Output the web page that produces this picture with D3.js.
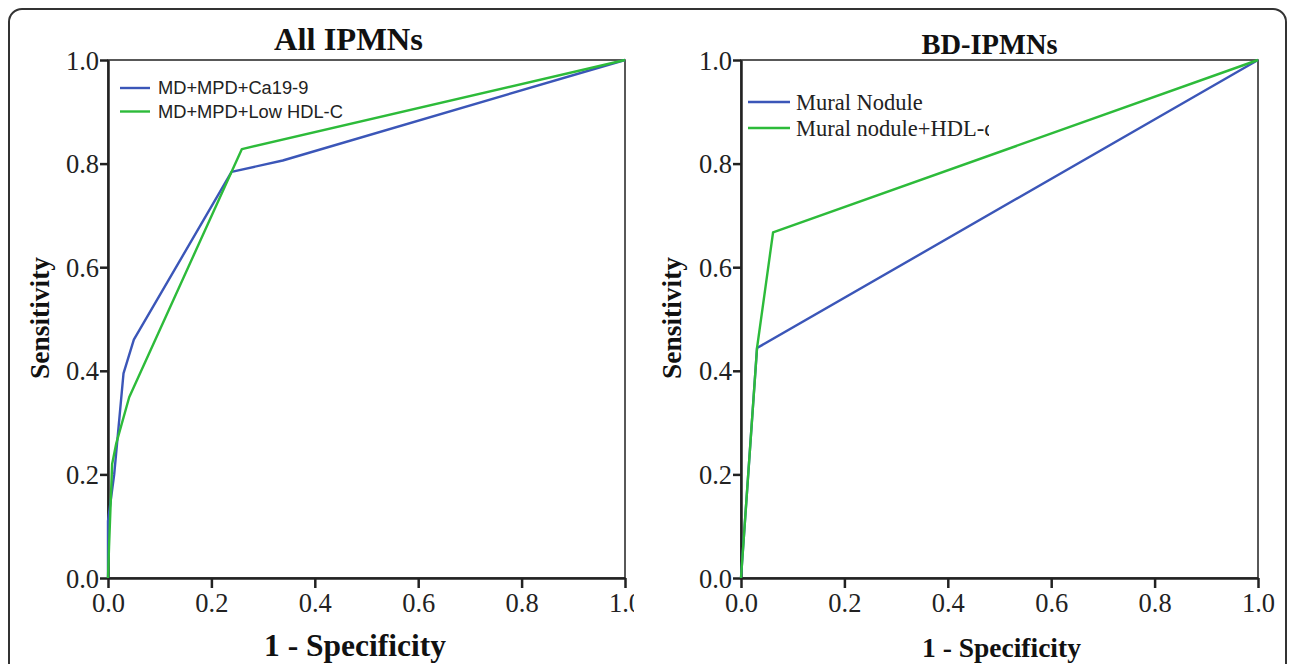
<!DOCTYPE html>
<html><head><meta charset="utf-8">
<script src="https://cdn.jsdelivr.net/npm/d3@7"></script>
<style>body{margin:0;background:#fff;} svg{display:block;}</style>
</head><body>
<svg id="chart" width="1292" height="664"></svg>
<script>
const ticks = [0, 0.2, 0.4, 0.6, 0.8, 1.0];
const panelTitles = ["All IPMNs", "BD-IPMNs"];
const xAxisTitle = "1 - Specificity";
const yAxisTitle = "Sensitivity";

// Panel 1: All IPMNs
const allNames = ["MD+MPD+Ca19-9", "MD+MPD+Low HDL-C"];
const allBlueX = [0, 0, 0.012, 0.03, 0.05, 0.239, 0.338, 1];
const allBlueY = [0, 0.11, 0.2, 0.395, 0.46, 0.784, 0.806, 1];
const allGreenX = [0, 0.002, 0.008, 0.016, 0.041, 0.259, 1];
const allGreenY = [0, 0.06, 0.22, 0.26, 0.349, 0.828, 1];

// Panel 2: BD-IPMNs
const bdNames = ["Mural Nodule", "Mural nodule+HDL-c"];
const bdBlueX = [0, 0.031, 1];
const bdBlueY = [0, 0.444, 1];
const bdGreenX = [0, 0.031, 0.062, 1];
const bdGreenY = [0, 0.444, 0.667, 1];

const colors = ["#3b56b8", "#2dbb3a"];

const svg = d3.select("#chart");
svg.append("rect").attr("x", 9).attr("y", 9).attr("width", 1277).attr("height", 700)
  .attr("rx", 13).attr("fill", "none").attr("stroke", "#333").attr("stroke-width", 2);

const serif = "'Liberation Serif','Times New Roman',serif";
const sans = "'Liberation Sans',Arial,sans-serif";

const panels = [
  {x0: 108, x1: 625, title: panelTitles[0], titleX: 348.5, titleY: 50, titleSize: 32.5,
   xlabX: 355, xlabY: 656, xlabSize: 31.5, ylabX: 49, clipR: 634,
   series: [{x: allBlueX, y: allBlueY}, {x: allGreenX, y: allGreenY}], names: allNames,
   leg: {x0: 120, x1: 150, tx: 158, y0: 88, dy: 23.5, font: sans, size: 18.3, clipR: 640}},
  {x0: 741, x1: 1258, title: panelTitles[1], titleX: 989.5, titleY: 54, titleSize: 28.5,
   xlabX: 1001.5, xlabY: 657, xlabSize: 27.5, ylabX: 681, clipR: 1292,
   series: [{x: bdBlueX, y: bdBlueY}, {x: bdGreenX, y: bdGreenY}], names: bdNames,
   leg: {x0: 748, x1: 790, tx: 796, y0: 102, dy: 26, font: serif, size: 22.5, clipR: 989}}
];

const defs = svg.append("defs");

panels.forEach((p, i) => {
  const x = d3.scaleLinear().domain([0, 1]).range([p.x0, p.x1]);
  const y = d3.scaleLinear().domain([0, 1]).range([578, 60]);
  defs.append("clipPath").attr("id", "pc" + i).append("rect")
    .attr("x", 0).attr("y", 0).attr("width", p.clipR).attr("height", 664);
  defs.append("clipPath").attr("id", "lc" + i).append("rect")
    .attr("x", 0).attr("y", 0).attr("width", p.leg.clipR).attr("height", 664);
  const g = svg.append("g").attr("clip-path", `url(#pc${i})`);

  // frame
  g.append("rect").attr("x", p.x0).attr("y", 60).attr("width", p.x1 - p.x0).attr("height", 518)
    .attr("fill", "none").attr("stroke", "#222").attr("stroke-width", 1.5);

  const xa = g.append("g").attr("transform", "translate(0,578)")
    .call(d3.axisBottom(x).tickValues(ticks).tickFormat(d3.format(".1f")).tickSizeInner(10).tickSizeOuter(0).tickPadding(5));
  const ya = g.append("g").attr("transform", `translate(${p.x0},0)`)
    .call(d3.axisLeft(y).tickValues(ticks).tickFormat(d3.format(".1f")).tickSizeInner(8).tickSizeOuter(0).tickPadding(1));
  [xa, ya].forEach(a => {
    a.select(".domain").attr("stroke", "#222").attr("stroke-width", 2.5);
    a.selectAll(".tick line").attr("stroke", "#222").attr("stroke-width", 2.5);
    a.selectAll(".tick text").attr("font-family", serif).attr("font-size", 26.5).attr("fill", "#222");
  });
  ya.selectAll(".tick text").attr("dy", "0.34em");

  const line = d3.line().x(d => x(d[0])).y(d => y(d[1]));
  p.series.forEach((s, k) => {
    g.append("path").datum(s.x.map((v, j) => [v, s.y[j]]))
      .attr("d", line).attr("fill", "none").attr("stroke", colors[k]).attr("stroke-width", 2.4)
      .attr("stroke-linejoin", "round");
  });

  // legend
  const lg = svg.append("g").attr("clip-path", `url(#lc${i})`);
  p.names.forEach((n, k) => {
    const yy = p.leg.y0 + k * p.leg.dy;
    lg.append("line").attr("x1", p.leg.x0).attr("x2", p.leg.x1).attr("y1", yy).attr("y2", yy)
      .attr("stroke", colors[k]).attr("stroke-width", 2.4);
    lg.append("text").attr("x", p.leg.tx).attr("y", yy).attr("dy", "0.35em")
      .attr("font-family", p.leg.font).attr("font-size", p.leg.size).attr("fill", "#222").text(n);
  });

  svg.append("text").attr("x", p.titleX).attr("y", p.titleY).attr("text-anchor", "middle")
    .attr("font-family", serif).attr("font-weight", "bold").attr("font-size", p.titleSize).attr("fill", "#111").text(p.title);
  svg.append("text").attr("x", p.xlabX).attr("y", p.xlabY).attr("text-anchor", "middle")
    .attr("font-family", serif).attr("font-weight", "bold").attr("font-size", p.xlabSize).attr("fill", "#111").text(xAxisTitle);
  svg.append("text").attr("transform", `translate(${p.ylabX},318) rotate(-90)`).attr("text-anchor", "middle")
    .attr("font-family", serif).attr("font-weight", "bold").attr("font-size", 27.5).attr("fill", "#111").text(yAxisTitle);
});
</script>
</body></html>
